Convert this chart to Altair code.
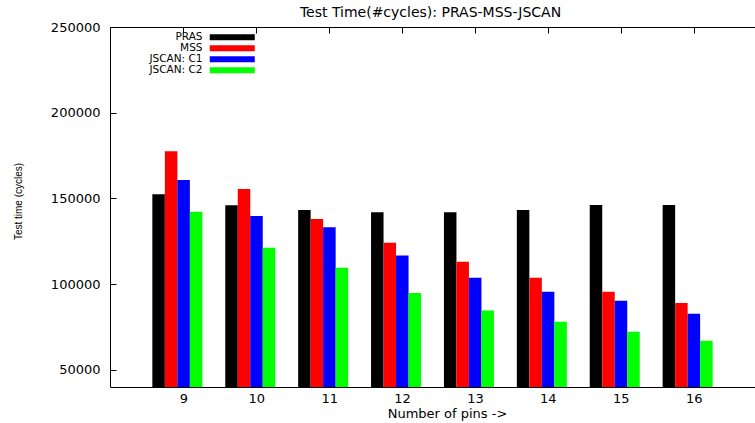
import altair as alt
import pandas as pd

pins = ["9", "10", "11", "12", "13", "14", "15", "16"]
series = ["PRAS", "MSS", "JSCAN: C1", "JSCAN: C2"]
pras = [152500, 146000, 143300, 142000, 142000, 143300, 146200, 146200]
mss = [177500, 155500, 138000, 124200, 113000, 103700, 95500, 89000]
c1 = [160800, 139800, 133200, 116700, 103700, 95500, 90300, 82700]
c2 = [142300, 121200, 109500, 94900, 84600, 78000, 72200, 67000]
colors = ["#000000", "#ff0000", "#0000ff", "#00ff00"]
y_ticks = [50000, 100000, 150000, 200000, 250000]

rows = []
for name, vals in zip(series, [pras, mss, c1, c2]):
    for p, v in zip(pins, vals):
        rows.append({"pins": p, "series": name, "value": v})
df = pd.DataFrame(rows)

FONT = "DejaVu Sans"

base = alt.Chart(df)

bars = base.mark_bar(clip=True).encode(
    x=alt.X(
        "pins:N",
        sort=pins,
        scale=alt.Scale(paddingInner=0.314, paddingOuter=0.581),
        axis=alt.Axis(
            title="Number of pins ->",
            orient="bottom",
            offset=-6,
            domain=False,
            tickSize=6,
            tickColor="black",
            tickOffset=6,
            labelAngle=0,
            labelPadding=5,
            titlePadding=2,
            titleX=337,
        ),
    ),
    xOffset=alt.XOffset(
        "series:N", sort=series, scale=alt.Scale(paddingInner=0, paddingOuter=0)
    ),
    y=alt.Y(
        "value:Q",
        scale=alt.Scale(domain=[40000, 250000], nice=False, zero=False),
        axis=alt.Axis(
            values=y_ticks,
            format="d",
            offset=-6,
            domain=False,
            tickSize=6,
            tickColor="black",
            labelPadding=10,
            grid=False,
            title="Test time (cycles)",
            titleFont="Liberation Sans",
            titleFontSize=10,
            titlePadding=27,
            titleY=174,
        ),
    ),
    color=alt.Color(
        "series:N",
        sort=series,
        scale=alt.Scale(domain=series, range=colors),
        legend=alt.Legend(
            orient="none",
            legendX=82,
            legendY=5,
            title=None,
            symbolType="M3.57,-0.86H16.43V0.86H3.57Z",
            symbolSize=49,
            symbolStrokeWidth=0,
            symbolOpacity=1,
            labelAlign="right",
            labelOffset=0,
            labelFont=FONT,
            labelFontSize=10.5,
            labelColor="black",
            rowPadding=0,
            padding=0,
        ),
    ),
)

top_ticks = base.mark_bar(opacity=0).encode(
    x=alt.X(
        "pins:N",
        sort=pins,
        axis=alt.Axis(
            orient="top",
            offset=-6,
            domain=False,
            tickSize=6,
            tickColor="black",
            tickOffset=6,
            labels=False,
            title=None,
        ),
    )
)

chart = (
    alt.layer(bars, top_ticks)
    .resolve_axis(x="independent")
    .properties(
        width=645,
        height=360,
        autosize=alt.AutoSizeParams(type="none"),
        padding={"left": 110, "top": 27, "right": 0, "bottom": 36},
        title=alt.TitleParams(
            "Test Time(#cycles): PRAS-MSS-JSCAN",
            font=FONT,
            fontSize=14,
            fontWeight="normal",
            color="black",
            anchor="middle",
            dx=-2,
            offset=1,
        ),
    )
    .configure_view(stroke="black", strokeWidth=1, strokeDash=[645, 360, 1005])
    .configure_axis(
        labelFont=FONT,
        labelFontSize=13,
        labelColor="black",
        titleFont=FONT,
        titleFontSize=13,
        titleFontWeight="normal",
        titleColor="black",
    )
)

chart.save("out.html", embed_options={"renderer": "svg", "actions": False})
